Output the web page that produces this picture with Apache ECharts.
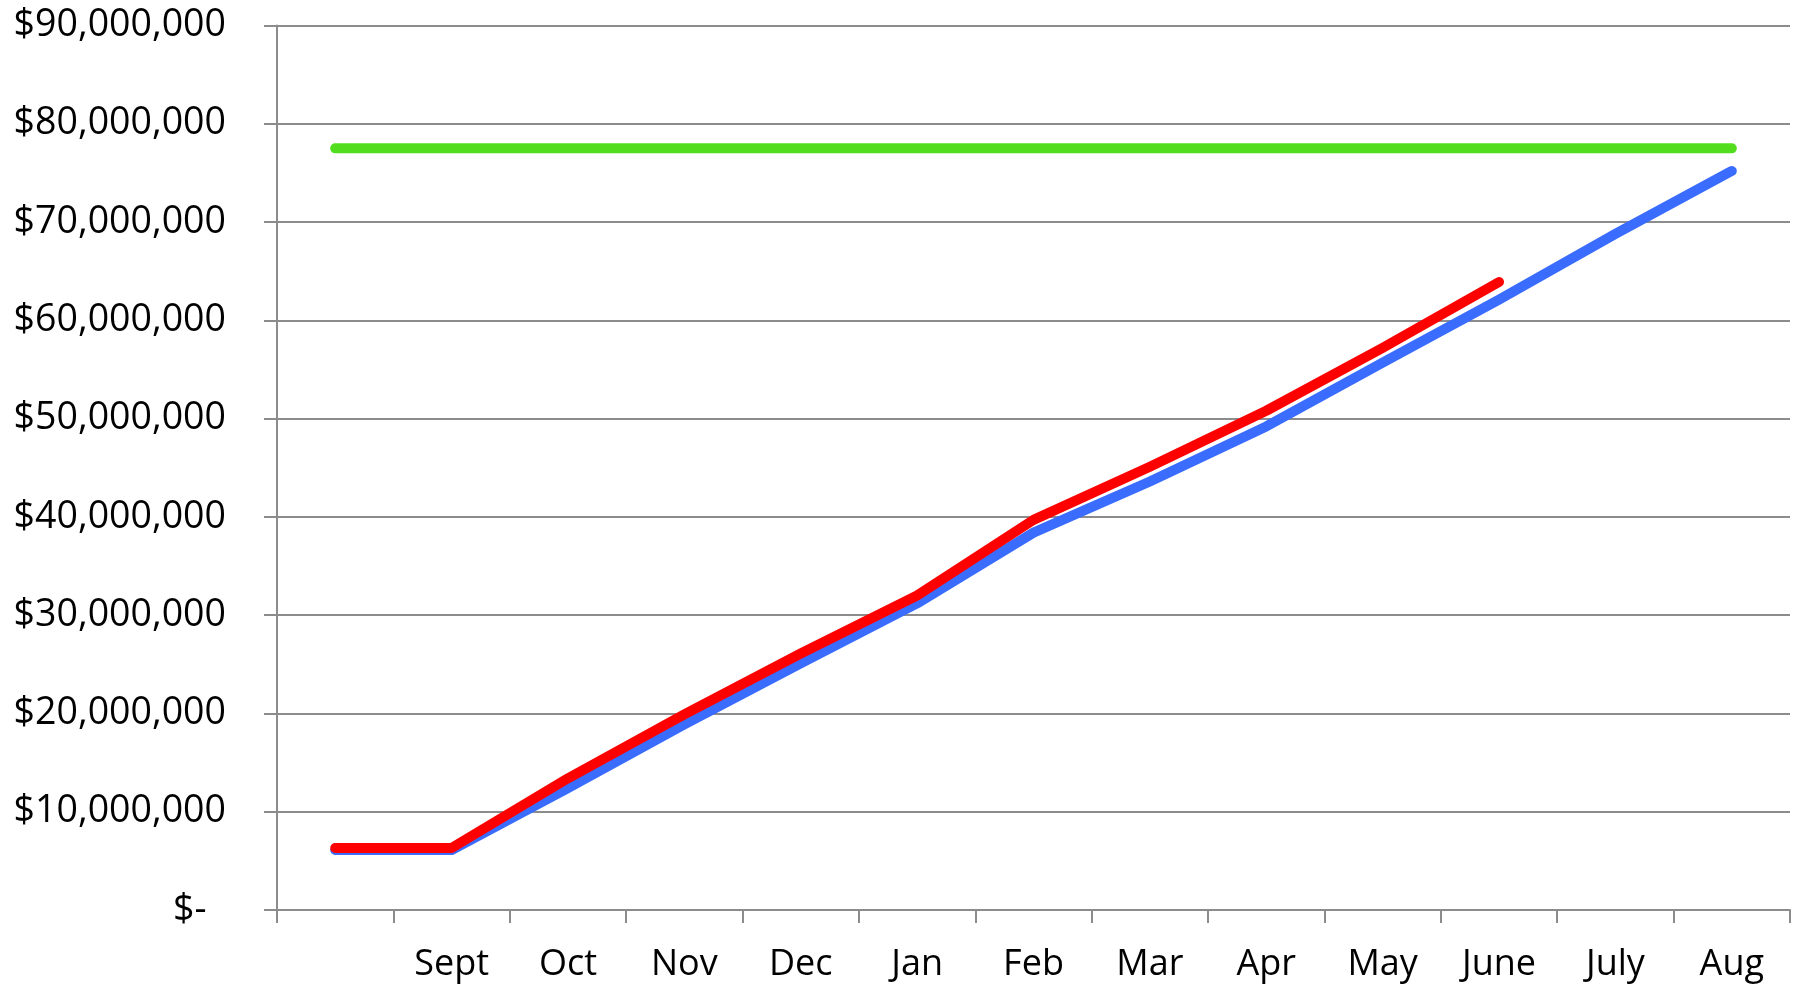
<!DOCTYPE html>
<html>
<head>
<meta charset="utf-8">
<script src="https://cdn.jsdelivr.net/npm/echarts@6/dist/echarts.min.js"></script>
<style>
  html, body { margin: 0; padding: 0; background: #ffffff; }
  #chart { width: 1801px; height: 989px; }
</style>
</head>
<body>
<div id="chart"></div>
<script>
// ---- data ----
const categories = ['', 'Sept', 'Oct', 'Nov', 'Dec', 'Jan', 'Feb', 'Mar', 'Apr', 'May', 'June', 'July', 'Aug'];
const budgetValues = [77500000, 77500000, 77500000, 77500000, 77500000, 77500000, 77500000, 77500000, 77500000, 77500000, 77500000, 77500000, 77500000];
const plannedValues = [6100000, 6100000, 12400000, 18900000, 25100000, 31200000, 38400000, 43600000, 49200000, 55700000, 62100000, 68800000, 75200000];
const actualValues = [6300000, 6300000, 13400000, 19900000, 26100000, 32000000, 39700000, 45100000, 50800000, 57200000, 63900000];
const yTickValues = [0, 10000000, 20000000, 30000000, 40000000, 50000000, 60000000, 70000000, 80000000, 90000000];
const yTickLabels = ['$-  ', '$10,000,000', '$20,000,000', '$30,000,000', '$40,000,000', '$50,000,000', '$60,000,000', '$70,000,000', '$80,000,000', '$90,000,000'];

const gray = '#8c8c8c';
const font = '"Open Sans", "Noto Sans", sans-serif';

const chart = echarts.init(document.getElementById('chart'), null, { renderer: 'canvas' });

function lineSeries(name, data, color, z) {
  return {
    name: name,
    type: 'line',
    data: data,
    showSymbol: false,
    symbol: 'none',
    smooth: false,
    z: z,
    lineStyle: { color: color, width: 10, cap: 'round', join: 'round' },
    itemStyle: { color: color },
    emphasis: { disabled: true },
    animation: false
  };
}

chart.setOption({
  animation: false,
  backgroundColor: '#ffffff',
  grid: { left: 277, right: 11, top: 25.5, bottom: 79, containLabel: false },
  xAxis: {
    type: 'category',
    data: categories,
    boundaryGap: true,
    axisLine: { show: true, lineStyle: { color: gray, width: 2 } },
    axisTick: { show: true, length: 13, lineStyle: { color: gray, width: 2 } },
    axisLabel: {
      color: '#000000',
      fontFamily: font,
      fontSize: 36,
      margin: 37,
      interval: 0
    },
    splitLine: { show: false }
  },
  yAxis: {
    type: 'value',
    min: 0,
    max: 90000000,
    interval: 10000000,
    axisLine: { show: true, lineStyle: { color: gray, width: 2 } },
    axisTick: { show: true, length: 13, lineStyle: { color: gray, width: 2 } },
    axisLabel: {
      color: '#000000',
      fontFamily: font,
      fontSize: 37.5,
      margin: 51,
      padding: [5, 0, 0, 0],
      formatter: function (v) {
        const i = yTickValues.indexOf(v);
        return i >= 0 ? yTickLabels[i] : '';
      }
    },
    splitLine: { show: true, lineStyle: { color: gray, width: 2 } }
  },
  series: [
    lineSeries('Budget', budgetValues, '#52de1e', 3),
    lineSeries('Planned', plannedValues, '#396cff', 4),
    lineSeries('Actual', actualValues, '#ff0000', 5)
  ]
});
</script>
</body>
</html>
